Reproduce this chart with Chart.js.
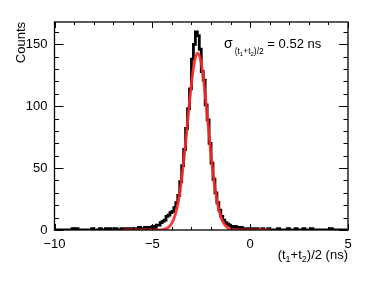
<!DOCTYPE html>
<html>
<head>
<meta charset="utf-8">
<script src="https://cdn.jsdelivr.net/npm/chart.js@4.4.0/dist/chart.umd.min.js"></script>
<style>
  html, body { margin: 0; padding: 0; background: #fff; }
</style>
</head>
<body>
<canvas id="c" width="390" height="281"></canvas>
<script>
/* ---------- data ---------- */
const X_MIN = -10, X_MAX = 5, Y_MIN = 0, Y_MAX = 168;
const BIN_LO = -10, BIN_W = 0.1;

// histogram counts, one row per ns, bins of 0.1 ns starting at -10
const counts = [
  0, 0, 0, 0, 0, 0, 0, 0, 0, 1,
  0, 1, 0, 0, 0, 0, 0, 0, 0, 1,
  0, 0, 0, 1, 0, 0, 1, 0, 1, 0,
  0, 1, 0, 0, 1, 1, 0, 1, 0, 1,
  1, 0, 1, 2, 1, 1, 2, 1, 2, 2,
  3, 2, 4, 4, 6, 7, 8, 11, 12, 14,
  15, 18, 22, 28, 39, 52, 65, 82, 98, 114,
  138, 150, 160, 157, 146, 128, 121, 101, 89, 70,
  54, 41, 30, 22, 16, 11, 8, 6, 5, 4,
  3, 2, 3, 2, 1, 2, 1, 1, 0, 1,
  0, 1, 0, 1, 0, 0, 1, 0, 0, 1,
  0, 0, 0, 0, 1, 0, 0, 0, 0, 1,
  0, 0, 0, 1, 0, 0, 0, 1, 0, 0,
  0, 1, 0, 0, 0, 0, 0, 0, 0, 0,
  0, 1, 0, 0, 0, 0, 0, 0, 0, 0,
];

// gaussian fit curve
const fitX = [-6.5, -5.5, -5.0, -4.7, -4.6, -4.5, -4.4, -4.3, -4.2, -4.1, -4.0,
  -3.9, -3.8, -3.7, -3.6, -3.5, -3.4, -3.3, -3.2, -3.1, -3.0,
  -2.9, -2.8, -2.7, -2.6, -2.5, -2.4, -2.3, -2.2, -2.1, -2.0,
  -1.9, -1.8, -1.7, -1.6, -1.5, -1.4, -1.3, -1.2, -1.1, -1.0,
  -0.9, -0.8, -0.5, 0.0, 1.0];
const fitY = [0, 0, 0.02, 0.08, 0.16, 0.31, 0.6, 1.1, 2.0, 3.4, 5.7,
  9.1, 14.1, 20.9, 29.9, 41.3, 54.8, 70.2, 86.7, 103.2, 118.3,
  130.8, 139.2, 142.9, 141.3, 134.7, 123.7, 109.5, 93.4, 76.8, 60.8,
  46.4, 34.2, 24.2, 16.5, 10.9, 6.9, 4.2, 2.5, 1.4, 0.77,
  0.4, 0.2, 0.05, 0, 0];

const xTickStep = 5, xMinorStep = 1;
const yTickStep = 50, yMinorStep = 10;

const SIGMA_TEXT = " = 0.52 ns";

/* ---------- helpers ---------- */
const FONT = "'Liberation Sans', Arial, Helvetica, sans-serif";
const minus = (v) => String(v).replace("-", "\u2212");

// draws text made of [string, isSub] parts, returns end x
function drawSubbed(ctx, parts, x, y, size, subSize, subDrop) {
  parts.forEach(([txt, sub]) => {
    ctx.font = `${sub ? subSize : size}px ${FONT}`;
    ctx.fillText(txt, x, sub ? y + subDrop : y);
    x += ctx.measureText(txt).width;
  });
  return x;
}

/* ---------- ROOT-like frame, ticks and labels ---------- */
const rootFrame = {
  id: "rootFrame",
  afterDatasetsDraw(chart) {
    const { ctx, chartArea: a, scales: { x, y } } = chart;
    ctx.save();
    ctx.strokeStyle = "#000";
    ctx.lineWidth = 1.3;
    ctx.strokeRect(a.left, a.top, a.right - a.left, a.bottom - a.top);

    ctx.lineWidth = 1;
    ctx.beginPath();
    for (let v = X_MIN; v <= X_MAX + 1e-9; v += xMinorStep) {
      const px = Math.round(x.getPixelForValue(v)) + 0.5;
      const len = Math.abs(v % xTickStep) < 1e-9 ? 6 : 3;
      ctx.moveTo(px, a.bottom); ctx.lineTo(px, a.bottom - len);
      ctx.moveTo(px, a.top); ctx.lineTo(px, a.top + len);
    }
    for (let v = Y_MIN; v <= Y_MAX; v += yMinorStep) {
      const py = Math.round(y.getPixelForValue(v)) + 0.5;
      const len = v % yTickStep === 0 ? 9 : 4.5;
      ctx.moveTo(a.left, py); ctx.lineTo(a.left + len, py);
      ctx.moveTo(a.right, py); ctx.lineTo(a.right - len, py);
    }
    ctx.stroke();
    ctx.restore();
  },
  afterDraw(chart) {
    const { ctx, chartArea: a } = chart;
    ctx.save();
    ctx.fillStyle = "#000";
    ctx.textBaseline = "alphabetic";

    // y title
    ctx.save();
    ctx.translate(25, a.top);
    ctx.rotate(-Math.PI / 2);
    ctx.textAlign = "right";
    ctx.font = `13px ${FONT}`;
    ctx.fillText("Counts", 0, 0);
    ctx.restore();

    // x title, right aligned at frame edge
    const xParts = [["(t", 0], ["1", 1], ["+t", 0], ["2", 1], [")/2 (ns)", 0]];
    ctx.textAlign = "left";
    let w = 0;
    xParts.forEach(([t, s]) => {
      ctx.font = `${s ? 9 : 13}px ${FONT}`;
      w += ctx.measureText(t).width;
    });
    drawSubbed(ctx, xParts, a.right - w, 259, 13, 9, 3);

    // sigma annotation
    ctx.font = `14px ${FONT}`;
    ctx.fillText("\u03c3", 224, 48);
    let sx = 224 + ctx.measureText("\u03c3").width + 2;
    sx = drawSubbed(ctx, [["(t", 0], ["1", 1], ["+t", 0], ["2", 1], [")/2", 0]], sx, 53.5, 8.5, 6, 2);
    ctx.font = `13px ${FONT}`;
    ctx.fillText(SIGMA_TEXT, sx, 48);
    ctx.restore();
  },
};

/* ---------- chart ---------- */
const histData = counts.map((c, i) => ({ x: BIN_LO + (i + 0.5) * BIN_W, y: c }));
const fitData = fitX.map((v, i) => ({ x: v, y: fitY[i] }));

new Chart(document.getElementById("c"), {
  type: "line",
  data: {
    datasets: [
      {
        label: "fit", data: fitData, borderColor: "rgba(255,40,40,0.92)",
        borderWidth: 2.8, pointRadius: 0, tension: 0.4,
        cubicInterpolationMode: "monotone", fill: false,
      },
      {
        label: "hist", data: histData, borderColor: "#000",
        borderWidth: 2.8, pointRadius: 0, stepped: "middle", fill: false,
      },
    ],
  },
  options: {
    responsive: false, animation: false, devicePixelRatio: 1,
    layout: { padding: { top: 22, right: 42, left: 0, bottom: 0 } },
    plugins: { legend: { display: false }, tooltip: { enabled: false } },
    scales: {
      x: {
        type: "linear", min: X_MIN, max: X_MAX,
        grid: { display: false, drawTicks: false }, border: { display: false },
        afterFit: (s) => { s.height = 51; },
        ticks: {
          stepSize: xTickStep, includeBounds: false, padding: 7, maxRotation: 0,
          color: "#000", font: { family: FONT, size: 13 },
          callback: (v) => minus(v),
        },
      },
      y: {
        type: "linear", min: Y_MIN, max: Y_MAX,
        grid: { display: false, drawTicks: false }, border: { display: false },
        afterFit: (s) => { s.width = 54.5; },
        ticks: {
          stepSize: yTickStep, includeBounds: false, padding: 7,
          color: "#000", font: { family: FONT, size: 13 },
        },
      },
    },
  },
  plugins: [rootFrame],
});
</script>
</body>
</html>
